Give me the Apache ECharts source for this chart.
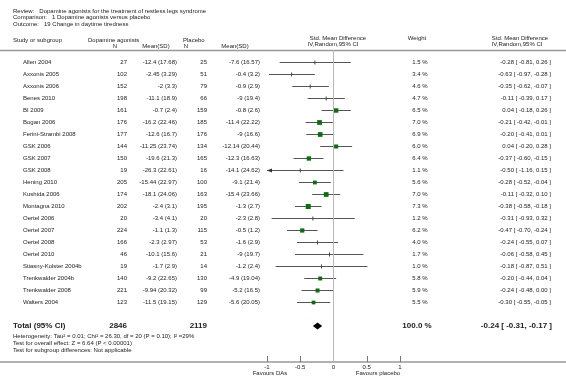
<!DOCTYPE html>
<html>
<head>
<meta charset="utf-8">
<script src="https://cdn.jsdelivr.net/npm/echarts@6/dist/echarts.min.js"></script>
<style>
  html, body { margin: 0; padding: 0; background: #fff; }
  #forest { width: 566px; height: 385px; }
</style>
</head>
<body>
<div id="forest"></div>
<script>
// study rows
var studies = ['Allen 2004', 'Axxonis 2005', 'Axxonis 2006', 'Benes 2010', 'BI 2009', 'Bogan 2006',
  'Ferini-Strambi 2008', 'GSK 2006', 'GSK 2007', 'GSK 2008', 'Hening 2010', 'Kushida 2006',
  'Montagna 2010', 'Oertel 2006', 'Oertel 2007', 'Oertel 2008', 'Oertel 2010',
  'Stiasny-Kolster 2004b', 'Trenkwalder 2004b', 'Trenkwalder 2008', 'Walters 2004'];
var nDA = [27, 102, 152, 198, 161, 176, 177, 144, 150, 19, 205, 174, 202, 20, 224, 166, 46, 19, 140, 221, 123];
var meanDA = ['-12.4 (17.68)', '-2.45 (3.29)', '-2 (3.3)', '-11.1 (18.9)', '-0.7 (2.4)', '-16.2 (22.46)',
  '-12.6 (16.7)', '-11.25 (23.74)', '-19.6 (21.3)', '-26.3 (22.61)', '-15.44 (22.97)', '-18.1 (24.06)',
  '-2.4 (3.1)', '-3.4 (4.1)', '-1.1 (1.3)', '-2.3 (2.97)', '-10.1 (15.6)', '-1.7 (2.9)',
  '-9.2 (22.65)', '-9.94 (20.32)', '-11.5 (19.15)'];
var nPl = [25, 51, 79, 66, 159, 185, 176, 134, 165, 16, 100, 163, 195, 20, 115, 53, 21, 14, 130, 99, 129];
var meanPl = ['-7.6 (16.57)', '-0.4 (3.2)', '-0.9 (2.9)', '-9 (19.4)', '-0.8 (2.6)', '-11.4 (22.22)',
  '-9 (16.6)', '-12.14 (20.44)', '-12.3 (16.63)', '-14.1 (24.62)', '-9.1 (21.4)', '-15.4 (23.66)',
  '-1.3 (2.7)', '-2.3 (2.8)', '-0.5 (1.2)', '-1.6 (2.9)', '-9 (19.7)', '-1.2 (2.4)',
  '-4.9 (19.04)', '-5.2 (16.5)', '-5.6 (20.05)'];
var weights = [1.5, 3.4, 4.6, 4.7, 6.5, 7.0, 6.9, 6.0, 6.4, 1.1, 5.6, 7.0, 7.3, 1.2, 6.2, 4.0, 1.7, 1.0, 5.8, 5.9, 5.5];
var smd = [-0.28, -0.63, -0.35, -0.11, 0.04, -0.21, -0.20, 0.04, -0.37, -0.50, -0.28, -0.11, -0.38, -0.31, -0.47, -0.24, -0.06, -0.18, -0.20, -0.24, -0.30];
var ciLow = [-0.81, -0.97, -0.62, -0.39, -0.18, -0.42, -0.41, -0.20, -0.60, -1.16, -0.52, -0.32, -0.58, -0.93, -0.70, -0.55, -0.58, -0.87, -0.44, -0.48, -0.55];
var ciHigh = [0.26, -0.28, -0.07, 0.17, 0.26, -0.01, 0.01, 0.28, -0.15, 0.15, -0.04, 0.10, -0.18, 0.32, -0.24, 0.07, 0.45, 0.51, 0.04, 0.00, -0.05];

// pooled result
var totalN = [2846, 2119];
var totalEffect = [-0.24, -0.31, -0.17];
var totalWeight = '100.0 %';

var xTicks = [-1, -0.5, 0, 0.5, 1];
var X_MIN = xTicks[0], X_MAX = xTicks[xTicks.length - 1];
var TOTAL_ROW = studies.length + 1;

var FONT = 'Liberation Sans, Arial, sans-serif';
var TXT = '#222';

function fmt(v) { return v.toFixed(2); }
function ciText(m, lo, hi) { return fmt(m) + ' [ ' + fmt(lo) + ', ' + fmt(hi) + ' ]'; }

function txt(x, y, s, align, size, bold) {
  return {
    type: 'text', x: x, y: y,
    style: {
      text: s, x: 0, y: 0, fill: TXT, align: align || 'left', verticalAlign: 'middle',
      font: (bold ? 'bold ' : '') + (size || 6) + 'px ' + FONT
    }
  };
}

var forest = echarts.init(document.getElementById('forest'), null, { renderer: 'canvas' });

var rowData = studies.map(function (s, i) { return [smd[i], i]; });

var option = {
  animation: false,
  backgroundColor: '#fff',
  grid: { left: 267, right: 166, top: 50, bottom: 23 },
  xAxis: {
    type: 'value', min: X_MIN, max: X_MAX, interval: 0.5,
    axisLine: { show: false, onZero: false },
    axisTick: { show: true, inside: true, length: 6, lineStyle: { color: '#777', width: 1 } },
    axisLabel: { fontSize: 6, fontFamily: FONT, color: TXT, margin: 2 },
    splitLine: { show: false }
  },
  yAxis: { type: 'value', min: -1, max: 25, inverse: true, show: false },
  series: [
    {
      // one row per study: CI line and square (or tick for small weights)
      type: 'custom',
      clip: false,
      data: rowData,
      markLine: {
        silent: true, symbol: 'none', label: { show: false },
        lineStyle: { color: '#b8b8b8', width: 1, type: 'solid' },
        data: [{ xAxis: 0 }]
      },
      renderItem: function (params, api) {
        var i = params.dataIndex;
        var lo = Math.max(ciLow[i], X_MIN), hi = Math.min(ciHigh[i], X_MAX);
        var pLo = api.coord([lo, i]), pHi = api.coord([hi, i]), pM = api.coord([smd[i], i]);
        var y = Math.round(pM[1]) + 0.5;
        var kids = [{
          type: 'line',
          shape: { x1: pLo[0], y1: y, x2: pHi[0], y2: y },
          style: { stroke: '#555', lineWidth: 1 }
        }];
        if (ciLow[i] < X_MIN) {
          kids.push({ type: 'polygon', shape: { points: [[pLo[0], y], [pLo[0] + 5, y - 2], [pLo[0] + 5, y + 2]] }, style: { fill: '#333' } });
        }
        if (weights[i] >= 5) {
          var sz = weights[i] * 0.68;
          kids.push({ type: 'rect', shape: { x: pM[0] - sz / 2, y: y - sz / 2, width: sz, height: sz }, style: { fill: '#0a6e0a' } });
        } else {
          kids.push({ type: 'line', shape: { x1: pM[0], y1: y - 2, x2: pM[0], y2: y + 2 }, style: { stroke: '#444', lineWidth: 1 } });
        }
        return { type: 'group', children: kids };
      }
    },
    {
      // pooled diamond
      type: 'custom',
      clip: false,
      data: [[totalEffect[0], TOTAL_ROW]],
      renderItem: function (params, api) {
        var l = api.coord([totalEffect[1], TOTAL_ROW]), r = api.coord([totalEffect[2], TOTAL_ROW]);
        var c = api.coord([totalEffect[0], TOTAL_ROW]);
        return {
          type: 'polygon',
          shape: { points: [[l[0], c[1]], [c[0], c[1] - 3.5], [r[0], c[1]], [c[0], c[1] + 3.5]] },
          style: { fill: '#000' }
        };
      }
    },
    {
      // table text for each study, placed on the same row scale
      type: 'custom',
      clip: false,
      data: rowData,
      renderItem: function (params, api) {
        var i = params.dataIndex;
        var y = api.coord([0, i])[1];
        return {
          type: 'group',
          children: [
            txt(23, y, studies[i]),
            txt(127, y, String(nDA[i]), 'right'),
            txt(177, y, meanDA[i], 'right'),
            txt(207, y, String(nPl[i]), 'right'),
            txt(260, y, meanPl[i], 'right'),
            txt(420, y, weights[i].toFixed(1) + ' %', 'center'),
            txt(551, y, ciText(smd[i], ciLow[i], ciHigh[i]), 'right')
          ]
        };
      }
    },
    {
      // total row text
      type: 'custom',
      clip: false,
      data: [[0, TOTAL_ROW]],
      renderItem: function (params, api) {
        var y = api.coord([0, TOTAL_ROW])[1];
        return {
          type: 'group',
          children: [
            txt(13, y, 'Total (95% CI)', 'left', 8, true),
            txt(127, y, String(totalN[0]), 'right', 8, true),
            txt(207, y, String(totalN[1]), 'right', 8, true),
            txt(417, y, totalWeight, 'center', 8, true),
            txt(552, y, ciText(totalEffect[0], totalEffect[1], totalEffect[2]), 'right', 8, true)
          ]
        };
      }
    }
  ],
  graphic: [
    txt(13, 11, 'Review:   Dopamine agonists for the treatment of restless legs syndrome'),
    txt(13, 17.5, 'Comparison:   1 Dopamine agonists versus placebo'),
    txt(13, 24, 'Outcome:   19 Change in daytime tiredness'),
    txt(13, 40, 'Study or subgroup'),
    txt(88, 40, 'Dopamine agonists'),
    txt(115, 46.5, 'N', 'center'),
    txt(156, 46.5, 'Mean(SD)', 'center'),
    txt(183, 40, 'Placebo'),
    txt(186, 46.5, 'N', 'center'),
    txt(235, 46.5, 'Mean(SD)', 'center'),
    txt(338, 38, 'Std. Mean Difference', 'center'),
    txt(333, 44, 'IV,Random,95% CI', 'center'),
    txt(417, 38, 'Weight', 'center'),
    txt(520, 38, 'Std. Mean Difference', 'center'),
    txt(517, 44, 'IV,Random,95% CI', 'center'),
    { type: 'line', shape: { x1: 0, y1: 50.5, x2: 566, y2: 50.5 }, style: { stroke: '#999', lineWidth: 1.5 } },
    { type: 'line', shape: { x1: 0, y1: 362, x2: 566, y2: 362 }, style: { stroke: '#999', lineWidth: 1.5 } },
    txt(13, 336, 'Heterogeneity: Tau\u00b2 = 0.01; Chi\u00b2 = 26.30, df = 20 (P = 0.10); I\u00b2 =29%', 'left', 6),
    txt(13, 343, 'Test for overall effect: Z = 6.64 (P < 0.00001)', 'left', 6),
    txt(13, 350, 'Test for subgroup differences: Not applicable', 'left', 6),
    txt(270, 373, 'Favours DAs', 'center'),
    txt(378, 373, 'Favours placebo', 'center')
  ]
};

forest.setOption(option);
</script>
</body>
</html>
